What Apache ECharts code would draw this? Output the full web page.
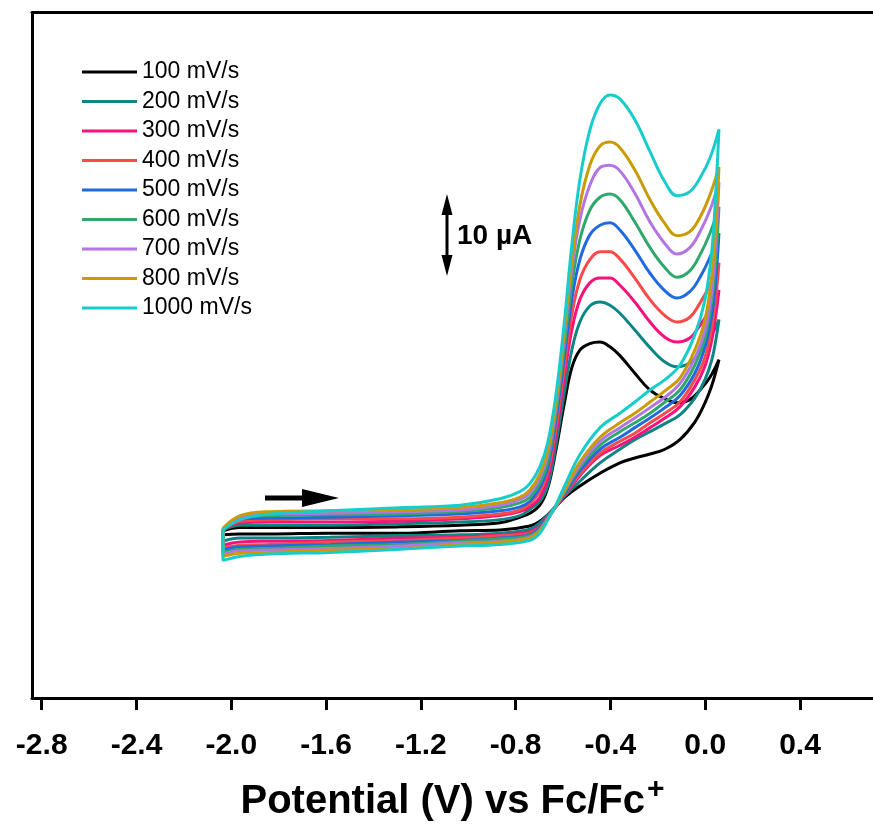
<!DOCTYPE html>
<html><head><meta charset="utf-8">
<script src="https://cdn.jsdelivr.net/npm/echarts@6/dist/echarts.min.js"></script>
<style>html,body{margin:0;padding:0;background:#fff}#c{width:873px;height:825px}</style>
</head><body><div id="c"></div>
<script>
// Potential grids (V vs Fc/Fc+)
const forwardV = [-2.035,-1.963,-1.837,-1.584,-1.288,-1.035,-0.866,-0.782,-0.740,-0.698,-0.664,-0.630,-0.596,-0.563,-0.529,-0.487,-0.444,-0.402,-0.360,-0.297,-0.233,-0.170,-0.119,-0.065,-0.022,0.020,0.058];
const reverseV = [0.045,0.028,-0.001,-0.044,-0.107,-0.170,-0.233,-0.297,-0.360,-0.444,-0.529,-0.592,-0.634,-0.664,-0.698,-0.740,-0.866,-1.035,-1.288,-1.584,-1.837,-1.963,-2.035];
const xTicks = [-2.8,-2.4,-2.0,-1.6,-1.2,-0.8,-0.4,0.0,0.4];
const scanRates = ['100 mV/s','200 mV/s','300 mV/s','400 mV/s','500 mV/s','600 mV/s','700 mV/s','800 mV/s','1000 mV/s'];
const colors = ['#000000','#0b8684','#f5127c','#f94a4a','#1f6ae0','#2fa86c','#b374e4','#c99b05','#18cccc'];

// Currents (µA) on forward (anodic) and reverse scans
const i100Fwd = [0.9,1.3,1.3,1.3,1.4,1.6,1.9,2.6,3.1,4.1,6.3,11.0,16.6,21.3,23.5,24.3,24.5,23.9,22.8,20.6,18.5,17.4,16.9,17.3,18.5,20.1,22.3];
const i100Rev = [20.8,19.1,16.9,14.5,12.3,11.1,10.5,10.0,9.4,8.1,6.5,5.1,3.8,2.9,2.1,1.5,1.0,0.9,0.6,0.6,0.5,0.5,0.4];
const i200Fwd = [1.0,1.6,1.6,1.6,1.8,2.0,2.3,2.8,3.6,4.6,6.6,11.6,17.9,23.5,27.0,29.0,29.5,29.1,28.1,26.0,23.8,22.0,21.4,21.9,23.3,25.0,27.3];
const i200Rev = [24.8,22.3,19.8,17.5,15.4,14.3,13.3,12.3,11.1,9.4,7.1,5.3,3.9,2.9,1.9,1.1,0.6,0.4,0.3,0.1,0.0,0.0,-0.4];
const i300Fwd = [1.0,1.9,2.0,2.0,2.1,2.4,2.8,3.3,3.9,5.1,7.5,12.9,19.8,26.0,29.8,31.9,32.5,32.5,31.6,29.5,27.0,25.1,24.5,25.0,26.6,28.5,31.0];
const i300Rev = [27.9,24.8,21.5,18.9,16.4,15.0,13.8,12.6,11.6,10.3,7.8,5.4,3.8,2.8,1.5,0.8,0.4,0.1,0.0,-0.3,-0.4,-0.5,-0.9];
const i400Fwd = [1.0,2.1,2.3,2.4,2.4,2.6,3.0,3.5,4.3,5.8,8.3,13.8,21.0,27.9,32.3,34.8,35.8,35.8,34.9,32.5,29.8,27.8,27.0,27.6,29.4,31.6,34.4];
const i400Rev = [30.1,26.4,22.6,19.8,17.0,15.6,14.4,13.1,12.1,10.6,8.0,5.5,3.8,2.6,1.4,0.6,0.3,0.0,-0.3,-0.5,-0.8,-0.9,-1.3];
const i500Fwd = [1.1,2.4,2.5,2.6,2.8,3.0,3.4,3.9,4.6,6.3,8.9,14.8,22.3,29.8,34.8,37.9,39.1,39.4,38.5,36.0,33.1,30.9,30.0,30.8,32.6,35.1,38.1];
const i500Rev = [32.5,27.9,23.9,20.6,17.8,16.3,15.0,13.8,12.6,11.1,8.4,5.6,3.8,2.6,1.3,0.4,0.0,-0.3,-0.5,-0.8,-1.0,-1.1,-1.5];
const i600Fwd = [1.1,2.5,2.8,2.9,3.0,3.3,3.8,4.4,5.1,6.8,9.5,15.6,23.5,31.6,37.3,41.0,42.6,43.0,42.3,39.5,36.3,33.8,32.6,33.4,35.4,38.1,41.4];
const i600Rev = [35.0,29.8,25.0,21.6,18.5,17.0,15.6,14.4,13.3,11.6,8.8,5.8,3.8,2.5,1.1,0.3,-0.1,-0.4,-0.8,-1.0,-1.3,-1.4,-1.8];
const i700Fwd = [1.2,2.6,3.0,3.1,3.3,3.5,4.1,4.8,5.6,7.5,10.4,16.3,24.8,33.5,39.8,44.1,46.3,46.6,45.9,43.1,39.5,36.8,35.5,36.3,38.3,41.0,44.5];
const i700Rev = [37.3,31.0,26.0,22.5,19.3,17.6,16.3,15.0,13.8,12.1,9.1,6.0,3.8,2.5,1.0,0.1,-0.4,-0.6,-1.0,-1.3,-1.5,-1.6,-2.0];
const i800Fwd = [1.2,2.8,3.3,3.4,3.5,3.8,4.4,5.1,6.0,8.0,11.0,16.9,25.4,34.5,41.6,46.6,49.0,49.5,48.8,46.0,42.3,39.3,37.8,38.3,40.1,42.9,46.4];
const i800Rev = [39.1,32.9,27.3,23.5,20.0,18.4,17.0,15.6,14.4,12.6,9.5,6.1,3.8,2.4,0.9,0.0,-0.5,-0.8,-1.3,-1.5,-1.8,-1.9,-2.3];
const i1000Fwd = [1.0,2.3,3.0,3.4,3.8,4.1,4.9,5.8,6.8,8.9,12.0,17.9,26.6,36.6,44.8,51.0,54.3,55.4,54.9,52.3,48.3,44.5,42.8,43.3,45.0,47.5,51.1];
const i1000Rev = [43.5,36.0,29.8,25.4,21.6,19.8,18.5,17.0,15.6,13.8,10.4,6.6,3.9,2.3,0.6,-0.3,-0.8,-1.0,-1.4,-1.8,-2.0,-2.3,-2.8];

const fwdSets = [i100Fwd,i200Fwd,i300Fwd,i400Fwd,i500Fwd,i600Fwd,i700Fwd,i800Fwd,i1000Fwd];
const revSets = [i100Rev,i200Rev,i300Rev,i400Rev,i500Rev,i600Rev,i700Rev,i800Rev,i1000Rev];

function loop(f, r) {
  const pts = [];
  forwardV.forEach((v, k) => pts.push([v, f[k]]));
  reverseV.forEach((v, k) => pts.push([v, r[k]]));
  pts.push([forwardV[0], f[0]]);
  return pts;
}

const FONT = 'Liberation Sans, Arial, Helvetica, sans-serif';
const chart = echarts.init(document.getElementById('c'), null, {renderer: 'canvas'});
const series = scanRates.map((name, i) => ({
  name, type: 'line', data: loop(fwdSets[i], revSets[i]),
  showSymbol: false, symbol: 'none', smooth: 0.4,
  lineStyle: {color: colors[i], width: 3}, itemStyle: {color: colors[i]},
  animation: false, z: 2 + i
}));

chart.setOption({
  backgroundColor: '#fff',
  animation: false,
  grid: {left: 32, right: 0, top: 12.5, bottom: 127, containLabel: false, outerBoundsMode: 'none'},
  legend: {
    orient: 'vertical', left: 82, top: 60, padding: 0,
    icon: 'rect', itemWidth: 55, itemHeight: 3, itemGap: 5.5,
    textStyle: {fontFamily: FONT, fontSize: 23, color: '#000', lineHeight: 24},
    data: scanRates
  },
  xAxis: [{
    type: 'value', min: -2.841, max: 0.708, position: 'bottom',
    axisLine: {show: true, onZero: false, lineStyle: {color: '#000', width: 3}},
    axisTick: {show: true, customValues: xTicks, length: 12, lineStyle: {color: '#000', width: 3}},
    axisLabel: {show: true, customValues: xTicks, margin: 33,
      formatter: v => v.toFixed(1),
      fontFamily: FONT, fontWeight: 'bold', fontSize: 30, color: '#000'},
    splitLine: {show: false},
    name: '{a|Potential (V) vs Fc/Fc}{b|+}', nameLocation: 'middle', nameGap: 77,
    nameTextStyle: {
      rich: {
        a: {fontFamily: FONT, fontWeight: 'bold', fontSize: 40, color: '#000'},
        b: {fontFamily: FONT, fontWeight: 'bold', fontSize: 30, color: '#000', padding: [0, 0, 24, 2]}
      }
    }
  }, {
    type: 'value', min: -2.841, max: 0.708, position: 'top',
    axisLine: {show: true, onZero: false, lineStyle: {color: '#000', width: 3}},
    axisTick: {show: false}, axisLabel: {show: false}, splitLine: {show: false}
  }],
  yAxis: {
    type: 'value', min: -20, max: 65.7,
    axisLine: {show: true, onZero: false, lineStyle: {color: '#000', width: 3}},
    axisTick: {show: false}, axisLabel: {show: false}, splitLine: {show: false}
  },
  graphic: [
    {type: 'line', shape: {x1: 447, y1: 205, x2: 447, y2: 265}, style: {stroke: '#000', lineWidth: 3}},
    {type: 'polygon', shape: {points: [[447, 194], [441.5, 215], [452.5, 215]]}, style: {fill: '#000'}},
    {type: 'polygon', shape: {points: [[447, 276], [441.5, 255], [452.5, 255]]}, style: {fill: '#000'}},
    {type: 'text', left: 457, top: 222, style: {text: '10 \u00b5A', font: 'bold 28px ' + FONT, fill: '#000'}},
    {type: 'line', shape: {x1: 265, y1: 498, x2: 306, y2: 498}, style: {stroke: '#000', lineWidth: 5}},
    {type: 'polygon', shape: {points: [[302, 489], [339, 498], [302, 507]]}, style: {fill: '#000'}}
  ],
  series
});
</script>
</body></html>
